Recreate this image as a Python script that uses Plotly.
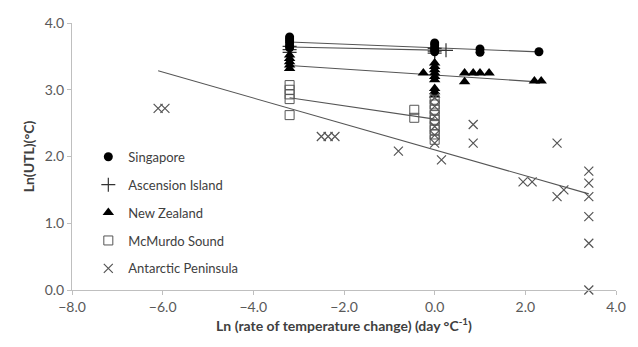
import plotly.graph_objects as go

# ---- data ----
sing_x = [-3.2, -3.2, -3.2, -3.2, -3.2, -3.2, 0, 0, 0, 0, 0, 1.0, 1.0, 2.3]
sing_y = [3.79, 3.76, 3.73, 3.70, 3.66, 3.63, 3.70, 3.67, 3.63, 3.60, 3.57, 3.61, 3.56, 3.57]

asc_x = [-3.2, -3.2, -3.2, 0, 0, 0, 0.25]
asc_y = [3.65, 3.60, 3.56, 3.62, 3.58, 3.55, 3.59]

nz_x = [-3.2, -3.2, -3.2, -3.2, -3.2, -0.25, 0, 0, 0, 0, 0, 0, 0, 0, 0,
        0.66, 0.66, 0.85, 1.0, 1.2, 2.2, 2.35]
nz_y = [3.52, 3.47, 3.42, 3.37, 3.32, 3.25, 3.40, 3.35, 3.30, 3.25, 3.20, 3.15, 3.02, 2.97, 2.92,
        3.25, 3.12, 3.25, 3.25, 3.25, 3.13, 3.13]

mcm_x = [-3.2, -3.2, -3.2, -3.2, -3.2, -0.45, -0.45, 0, 0, 0, 0, 0, 0, 0, 0, 0]
mcm_y = [3.07, 3.00, 2.93, 2.86, 2.62, 2.70, 2.58, 2.85, 2.78, 2.70, 2.62, 2.55, 2.47, 2.40, 2.33, 2.25]

ant_x = [-6.1, -5.95, -2.5, -2.35, -2.2, -0.8, 0, 0, 0, 0, 0, 0, 0.15, 0.85, 0.85,
         1.95, 2.15, 2.7, 2.7, 2.85, 3.4, 3.4, 3.4, 3.4, 3.4, 3.4]
ant_y = [2.72, 2.72, 2.30, 2.30, 2.30, 2.08, 2.88, 2.75, 2.60, 2.45, 2.32, 2.20, 1.95, 2.48, 2.20,
         1.62, 1.62, 2.20, 1.40, 1.50, 1.78, 1.60, 1.40, 1.10, 0.70, 0.0]

# linear trend lines (intercept, slope)
fits = {
    "Singapore": (3.63, -0.027),
    "Ascension Island": (3.594, -0.0145),
    "New Zealand": (3.22, -0.045),
    "McMurdo Sound": (2.56, -0.10),
    "Antarctic Peninsula": (2.10, -0.194),
}

x_ticks = [-8, -6, -4, -2, 0, 2, 4]
y_ticks = [0, 1, 2, 3, 4]

series = [
    ("Singapore", sing_x, sing_y, dict(symbol="circle", color="black", size=9)),
    ("Ascension Island", asc_x, asc_y, dict(symbol="cross-thin", size=10,
                                            line=dict(color="#333333", width=1.2))),
    ("New Zealand", nz_x, nz_y, dict(symbol="triangle-up", color="black", size=10)),
    ("McMurdo Sound", mcm_x, mcm_y, dict(symbol="square-open", color="#555555", size=9,
                                         line=dict(width=1))),
    ("Antarctic Peninsula", ant_x, ant_y, dict(symbol="x-thin", size=9,
                                               line=dict(color="#555555", width=1.2))),
]

fig = go.Figure()

# trend lines
for name, xs, ys, mk in series:
    b0, b1 = fits[name]
    x0, x1 = min(xs), max(xs)
    fig.add_trace(go.Scatter(x=[x0, x1], y=[b0 + b1 * x0, b0 + b1 * x1], mode="lines",
                             line=dict(color="#555555", width=1.1), showlegend=False,
                             hoverinfo="skip"))

# markers (draw Ascension first so circles cover it, but keep legend order)
draw_order = [1, 0, 2, 3, 4]
for i in draw_order:
    name, xs, ys, mk = series[i]
    fig.add_trace(go.Scatter(x=xs, y=ys, mode="markers", name=name, marker=mk,
                             legendgroup=name, legendrank=i + 1, cliponaxis=False))

font_fam = "Lato, 'Open Sans', sans-serif"
fig.update_layout(
    width=638, height=347,
    margin=dict(l=72, r=22, t=23, b=57, autoexpand=False),
    paper_bgcolor="white", plot_bgcolor="white",
    font=dict(family=font_fam, color="#595959", size=14),
    legend=dict(x=0.03, y=0.555, xanchor="left", yanchor="top",
                bgcolor="rgba(0,0,0,0)", font=dict(size=13, color="#404040"),
                itemsizing="trace", tracegroupgap=8, itemwidth=30),
    showlegend=True,
)
fig.update_xaxes(range=[-8, 4], tickvals=x_ticks, tickformat=".1f", automargin=False,
                 showgrid=False, zeroline=False, showline=True, linecolor="#bfbfbf",
                 linewidth=1, ticks="outside", tickcolor="#bfbfbf", ticklen=4,
                 title=dict(text="<b>Ln (rate of temperature change) (day °C<sup>-1</sup>)</b>",
                            font=dict(size=14, color="#404040"), standoff=6))
fig.update_yaxes(range=[0, 4], tickvals=y_ticks, tickformat=".1f", automargin=False,
                 showgrid=False, zeroline=False, showline=True, linecolor="#bfbfbf",
                 linewidth=1, ticks="outside", tickcolor="#bfbfbf", ticklen=4,
                 title=dict(text="<b>Ln(UTL)(°C)</b>", font=dict(size=14, color="#404040"),
                            standoff=6))

fig.write_html("out.html", config={"displayModeBar": False},
               post_script="document.body.style.margin='0px';document.body.style.padding='0px';")
